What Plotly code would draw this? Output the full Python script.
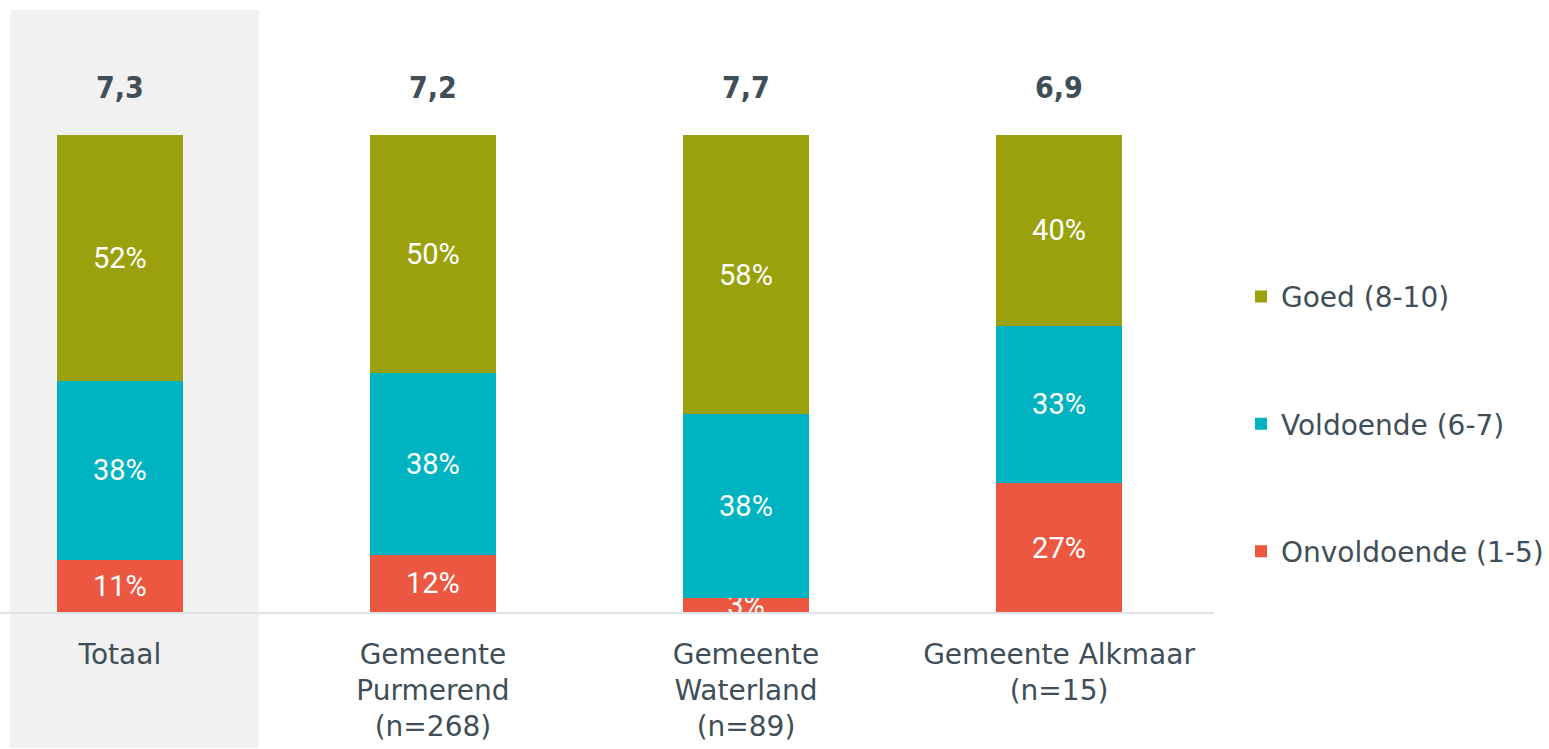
import plotly.graph_objects as go

categories = ["Totaal", "Gemeente<br>Purmerend<br>(n=268)", "Gemeente<br>Waterland<br>(n=89)", "Gemeente Alkmaar<br>(n=15)"]
onvoldoende = [11, 12, 3, 27]
voldoende = [38, 38, 38, 33]
goed = [52, 50, 58, 40]
averages = [7.3, 7.2, 7.7, 6.9]

series = [
    ("Onvoldoende (1-5)", onvoldoende, "#eb5740", 3),
    ("Voldoende (6-7)", voldoende, "#00b3c1", 2),
    ("Goed (8-10)", goed, "#9aa10c", 1),
]

TEXT = "#404e57"
FONT = "DejaVu Sans"
xpos = list(range(len(categories)))

fig = go.Figure()
for name, vals, col, rank in series:
    fig.add_trace(go.Bar(
        x=xpos, y=vals, name=name, legendgroup=name, legendrank=rank,
        marker=dict(color=col, line=dict(width=0)),
        width=0.4,
        text=[f"{v}%" for v in vals],
        textposition="inside",
        insidetextanchor="middle",
        textfont=dict(family="Roboto", size=29, color="white"),
        cliponaxis=True,
        hoverinfo="skip",
    ))

for i, a in enumerate(averages):
    fig.add_annotation(
        x=i, y=110, xref="x", yref="y",
        text=f"<b>{a:.1f}</b>".replace(".", ","),
        showarrow=False,
        font=dict(family="DejaVu Sans Condensed", size=30, color=TEXT),
    )

fig.add_shape(type="rect", xref="x", yref="paper",
              x0=-0.351, x1=0.4436, y0=-0.226, y1=1,
              fillcolor="#f1f1f1", line=dict(width=0), layer="below")

fig.update_layout(
    width=1549, height=749,
    margin=dict(l=0, r=334, t=10, b=137),
    barmode="stack", barnorm="percent",
    paper_bgcolor="white", plot_bgcolor="rgba(0,0,0,0)",
    uniformtext=dict(minsize=29, mode="show"),
    showlegend=True,
    legend=dict(
        x=1.0225, xanchor="left", y=0.312, yanchor="middle",
        traceorder="grouped", tracegroupgap=88,
        font=dict(family=FONT, size=28, color=TEXT),
        bgcolor="rgba(0,0,0,0)",
    ),
    xaxis=dict(
        range=[-0.383, 3.495],
        tickvals=xpos, ticktext=categories,
        showline=True, linecolor="#dde3e8", linewidth=2,
        showgrid=False, zeroline=False,
        ticks="outside", ticklen=16, tickcolor="rgba(0,0,0,0)",
        tickfont=dict(family=FONT, size=28, color=TEXT),
        fixedrange=True,
    ),
    yaxis=dict(
        range=[0, 126.2], visible=False, showgrid=False, zeroline=False,
        fixedrange=True,
    ),
)

fig.write_html("out.html", config={"displayModeBar": False},
               post_script="document.body.style.margin='0';document.body.style.overflow='hidden';")
